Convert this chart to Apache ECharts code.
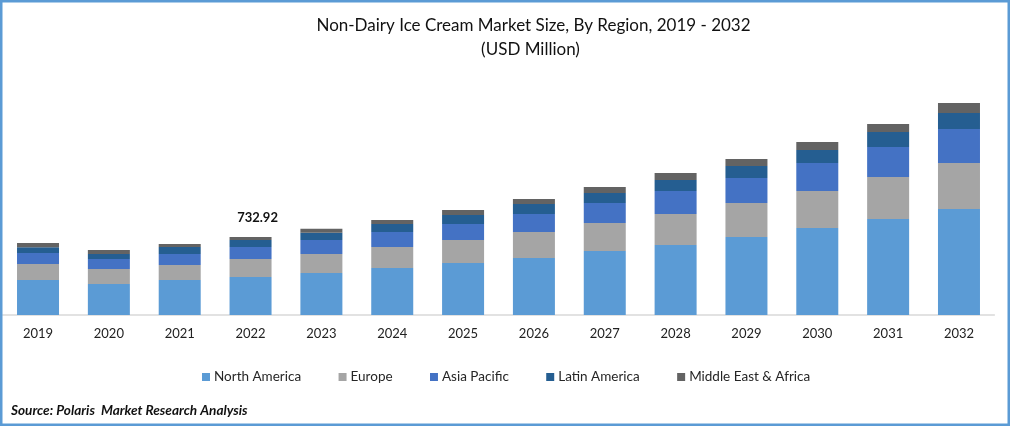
<!DOCTYPE html>
<html lang="en">
<head>
    <meta charset="UTF-8">
    <title>Non-Dairy Ice Cream Market Size</title>
    <script src="https://cdn.jsdelivr.net/npm/echarts@6/dist/echarts.min.js"></script>
    <style>
        html, body { margin: 0; padding: 0; background: #fff; }
        #chart { width: 1010px; height: 426px; }
    </style>
</head>
<body>
    <div id="chart"></div>
    <script type="text/javascript">
        var years = ['2019', '2020', '2021', '2022', '2023', '2024', '2025', '2026', '2027', '2028', '2029', '2030', '2031', '2032'];
        // USD million; 2022 adds up to the printed 732.92
        var northAmerica = [329, 291, 329, 357, 395, 442, 489, 536, 602, 658, 733, 818, 902, 996];
        var europe = [150, 141, 141, 169, 179, 197, 216, 244, 263, 291, 320, 348, 395, 432];
        var asiaPacific = [103, 94, 103, 113, 132, 141, 150, 169, 188, 216, 235, 263, 282, 320];
        var latinAmerica = [56, 47, 66, 66, 66, 75, 85, 94, 94, 103, 113, 122, 141, 150];
        var middleEastAfrica = [38, 38, 28, 27.92, 38, 38, 47, 47, 56, 66, 66, 75, 75, 94];
        var labelYear = '2022';
        var labelText = '732.92';

        var font = 'Lato';
        var names = ['North America', 'Europe', 'Asia Pacific', 'Latin America', 'Middle East & Africa'];
        var colors = ['#5b9bd5', '#a5a5a5', '#4472c4', '#255e91', '#636363'];
        var values = [northAmerica, europe, asiaPacific, latinAmerica, middleEastAfrica];

        var series = names.map(function (name, i) {
            return {
                name: name,
                type: 'bar',
                stack: 'total',
                barWidth: 42,
                itemStyle: { color: colors[i] },
                data: values[i].map(function (v, j) {
                    if (i === 4 && years[j] === labelYear) {
                        return {
                            value: v,
                            label: {
                                show: true,
                                position: 'top',
                                distance: 13,
                                offset: [7, 0],
                                formatter: labelText,
                                fontFamily: font,
                                fontWeight: 'bold',
                                fontSize: 13,
                                color: '#111'
                            }
                        };
                    }
                    return v;
                })
            };
        });

        var mychart = echarts.init(document.getElementById('chart'));
        var option = {
            backgroundColor: '#fff',
            animation: false,
            title: [
                {
                    text: 'Non-Dairy Ice Cream Market Size, By Region, 2019 - 2032',
                    left: 528.5,
                    top: 12,
                    textAlign: 'center',
                    textStyle: { fontFamily: font, fontSize: 17, fontWeight: 'normal', color: '#111' }
                },
                {
                    text: '(USD Million)',
                    left: 525.5,
                    top: 36,
                    textAlign: 'center',
                    textStyle: { fontFamily: font, fontSize: 17, fontWeight: 'normal', color: '#111' }
                },
                {
                    text: 'Source: Polaris  Market Research Analysis',
                    left: 6,
                    top: 399,
                    textStyle: { fontFamily: font, fontSize: 13.6, fontWeight: 'bold', fontStyle: 'italic', color: '#111' }
                }
            ],
            legend: {
                data: names,
                top: 365,
                left: 197,
                icon: 'rect',
                itemWidth: 8,
                itemHeight: 8,
                itemGap: 37.4,
                textStyle: { fontFamily: font, fontSize: 13.5, color: '#262626', padding: [0, 0, 0, -1] }
            },
            grid: { left: 2.6, right: 15.6, top: 60, height: 255 },
            xAxis: {
                type: 'category',
                data: years,
                axisTick: { show: false },
                axisLine: { lineStyle: { color: '#d9d9d9', width: 1.5 } },
                axisLabel: { fontFamily: font, fontSize: 13, color: '#222', margin: 12 }
            },
            yAxis: { type: 'value', min: 0, max: 2397, show: false },
            series: series,
            graphic: [{
                type: 'rect',
                silent: true,
                z: 100,
                shape: { x: 1.25, y: 1.25, width: 1007.5, height: 423.5 },
                style: { fill: 'none', stroke: '#5b9bd5', lineWidth: 2.5 }
            }]
        };
        mychart.setOption(option, true);
    </script>
</body>
</html>
